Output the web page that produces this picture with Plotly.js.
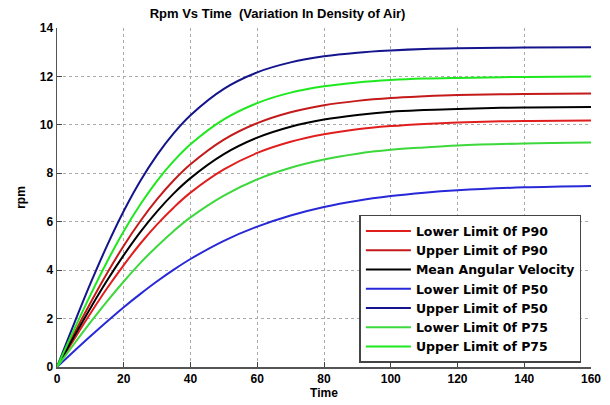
<!DOCTYPE html>
<html>
<head>
<meta charset="utf-8">
<script src="https://cdn.plot.ly/plotly-3.0.1.min.js"></script>
<style>html,body{margin:0;padding:0;background:#fff;}#chart{width:610px;height:405px;}</style>
</head>
<body>
<div id="chart"></div>
<script>
// Time axis (s)
var time = [0, 5, 10, 15, 20, 25, 30, 35, 40, 50, 60, 70, 80, 90, 100, 110, 120, 140, 160];

// rpm values
var lowerP90 = [0, 1.12, 2.21, 3.25, 4.21, 5.10, 5.89, 6.59, 7.20, 8.16, 8.84, 9.30, 9.61, 9.82, 9.95, 10.04, 10.10, 10.16, 10.18];
var upperP90 = [0, 1.34, 2.64, 3.87, 5.01, 6.03, 6.93, 7.71, 8.37, 9.39, 10.07, 10.52, 10.81, 10.99, 11.11, 11.18, 11.23, 11.27, 11.29];
var meanVel  = [0, 1.23, 2.43, 3.57, 4.62, 5.58, 6.43, 7.17, 7.80, 8.79, 9.47, 9.92, 10.22, 10.41, 10.54, 10.61, 10.66, 10.72, 10.74];
var lowerP50 = [0, 0.64, 1.27, 1.88, 2.47, 3.02, 3.54, 4.02, 4.46, 5.21, 5.80, 6.26, 6.61, 6.87, 7.06, 7.20, 7.30, 7.42, 7.48];
var upperP50 = [0, 1.75, 3.44, 5.01, 6.44, 7.69, 8.76, 9.66, 10.40, 11.49, 12.17, 12.58, 12.83, 12.98, 13.07, 13.13, 13.16, 13.19, 13.20];
var lowerP75 = [0, 0.93, 1.84, 2.71, 3.53, 4.30, 4.99, 5.62, 6.18, 7.08, 7.75, 8.23, 8.57, 8.81, 8.97, 9.07, 9.15, 9.23, 9.27];
var upperP75 = [0, 1.51, 2.97, 4.35, 5.61, 6.72, 7.69, 8.51, 9.20, 10.23, 10.90, 11.33, 11.59, 11.75, 11.85, 11.91, 11.94, 11.98, 12.00];

var names = ["Lower Limit 0f P90", "Upper Limit of P90", "Mean Angular Velocity",
             "Lower Limit 0f P50", "Upper Limit of P50", "Lower Limit 0f P75", "Upper Limit of P75"];
var series = [lowerP90, upperP90, meanVel, lowerP50, upperP50, lowerP75, upperP75];
var colors = ["#e01e1e", "#c41a1a", "#000000", "#2828d8", "#14148c", "#3cd83c", "#1ee81e"];

var traces = series.map(function (ys, i) {
  return {
    x: time, y: ys, name: names[i], type: "scatter", mode: "lines",
    line: {color: colors[i], width: 2, shape: "spline", smoothing: 1.0}
  };
});

var fnt = {family: "Arial, 'Liberation Sans', sans-serif", size: 12, color: "#000", weight: "bold"};
var titleFnt = {family: "Arial, 'Liberation Sans', sans-serif", size: 13, color: "#000", weight: "bold"};
var legFnt = {family: "'DejaVu Sans', sans-serif", size: 12.5, color: "#000", weight: "bold"};

var layout = {
  width: 610, height: 405,
  margin: {l: 57, r: 19, t: 28, b: 38},
  paper_bgcolor: "#fff", plot_bgcolor: "#fff",
  showlegend: true,
  title: {text: "Rpm Vs Time  (Variation In Density of Air)", font: titleFnt, x: 0.455, xanchor: "center", y: 0.968, yanchor: "middle"},
  xaxis: {
    range: [0, 160], tickvals: [0, 20, 40, 60, 80, 100, 120, 140, 160],
    ticks: "inside", ticklen: 5, tickcolor: "#444", tickfont: fnt,
    showline: true, linecolor: "#555", linewidth: 1.5, mirror: false,
    showgrid: true, gridcolor: "#aaa", griddash: "dot", gridwidth: 1,
    zeroline: false,
    title: {text: "Time", font: fnt, standoff: 3}
  },
  yaxis: {
    range: [0, 14], tickvals: [0, 2, 4, 6, 8, 10, 12, 14],
    ticks: "inside", ticklen: 5, tickcolor: "#444", tickfont: fnt,
    showline: true, linecolor: "#555", linewidth: 1.5, mirror: false,
    showgrid: true, gridcolor: "#aaa", griddash: "dot", gridwidth: 1,
    zeroline: false,
    title: {text: "rpm", font: fnt, standoff: 11}
  },
  legend: {
    x: 0.982, xanchor: "right", y: 0.012, yanchor: "bottom",
    bgcolor: "#fff", bordercolor: "#444", borderwidth: 1.5,
    font: legFnt, itemwidth: 45
  }
};

Plotly.newPlot("chart", traces, layout, {displayModeBar: false, staticPlot: true});
</script>
</body>
</html>
